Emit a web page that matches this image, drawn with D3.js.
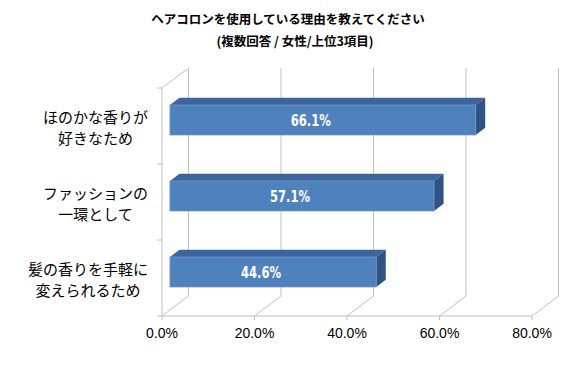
<!DOCTYPE html>
<html>
<head>
<meta charset="utf-8">
<script src="https://cdn.jsdelivr.net/npm/d3@7"></script>
<style>
	body { margin: 0; background: #fff; }
	svg { display: block; }
</style>
</head>
<body>
<svg id="chart" width="582" height="367"></svg>
<script>
(function() {
	'use strict';

	//chart data
	var titleLines = ['ヘアコロンを使用している理由を教えてください', '(複数回答 / 女性/上位3項目)'],
		categories = ['ほのかな香りが\n好きなため', 'ファッションの\n一環として', '髪の香りを手軽に\n変えられるため'],
		values = [66.1, 57.1, 44.6],
		ticks = [0, 20, 40, 60, 80];

	//layout variables
	var svg = d3.select('#chart'),
		left = 162, right = 532, top = 88, bottom = 316,
		depthX = 26.5, depthY = 20,
		barFront = 0.3, barBack = 0.66, barHeight = 30,
		gridColor = '#c0c0c0',
		jp = '"Noto Sans CJK JP", "Noto Sans", sans-serif';

	var x = d3.scaleLinear().domain([0, 80]).range([left, right]),
		y = d3.scaleBand().domain(categories).range([top, bottom]);

	function shift(d) {
		return [d * depthX, -d * depthY];
	}

	var back = shift(1);

	//title
	svg.append('g').selectAll('text').data(titleLines).join('text')
		.attr('x', function(d, i) { return i ? 295 : 288; })
		.attr('y', function(d, i) { return 24 + i * 22; })
		.attr('text-anchor', 'middle')
		.attr('font-family', jp)
		.attr('font-weight', 'bold')
		.attr('font-size', 12.5)
		.text(function(d) { return d; });

	//walls and floor
	var grid = svg.append('g')
		.attr('stroke', gridColor)
		.attr('stroke-width', 1)
		.attr('fill', 'none');

	//back wall verticals
	grid.selectAll('line.back').data(ticks).join('line')
		.attr('class', 'back')
		.attr('x1', function(d) { return x(d) + back[0]; })
		.attr('x2', function(d) { return x(d) + back[0]; })
		.attr('y1', top + back[1])
		.attr('y2', bottom + back[1]);

	//floor diagonals
	grid.selectAll('line.floor').data(ticks).join('line')
		.attr('class', 'floor')
		.attr('x1', function(d) { return x(d); })
		.attr('x2', function(d) { return x(d) + back[0]; })
		.attr('y1', bottom)
		.attr('y2', bottom + back[1]);

	//left wall top edge and front axis lines
	grid.append('line')
		.attr('x1', left).attr('y1', top)
		.attr('x2', left + back[0]).attr('y2', top + back[1]);
	grid.append('line')
		.attr('x1', left).attr('y1', top)
		.attr('x2', left).attr('y2', bottom);
	grid.append('line')
		.attr('x1', left).attr('y1', bottom)
		.attr('x2', right).attr('y2', bottom);

	//category ticks on the left axis
	var catEdges = categories.map(function(c) { return y(c); }).concat([bottom]);
	grid.selectAll('line.ctick').data(catEdges).join('line')
		.attr('class', 'ctick')
		.attr('x1', left - 5).attr('x2', left)
		.attr('y1', function(d) { return d; })
		.attr('y2', function(d) { return d; });

	//value ticks on the floor
	grid.selectAll('line.vtick').data(ticks).join('line')
		.attr('class', 'vtick')
		.attr('x1', function(d) { return x(d); })
		.attr('x2', function(d) { return x(d); })
		.attr('y1', bottom)
		.attr('y2', bottom + 4);

	//tick labels
	svg.append('g').selectAll('text').data(ticks).join('text')
		.attr('x', function(d) { return x(d); })
		.attr('y', bottom + 22)
		.attr('text-anchor', 'middle')
		.attr('font-family', '"Liberation Sans", Arial, sans-serif')
		.attr('font-size', 14)
		.text(function(d) { return d.toFixed(1) + '%'; });

	//category labels
	var catG = svg.append('g')
		.attr('font-family', jp)
		.attr('font-size', 15)
		.attr('fill', '#000');

	categories.forEach(function(c) {
		var lines = c.split('\n'),
			cy = y(c) + y.bandwidth() / 2 + 2,
			g = catG.append('g'),
			texts = g.selectAll('text').data(lines).join('text')
				.attr('text-anchor', 'middle')
				.attr('y', function(d, i) { return cy + (i - (lines.length - 1) / 2) * 21 + 5; })
				.text(function(d) { return d; }),
			maxW = 0;
		texts.each(function() { maxW = Math.max(maxW, this.getComputedTextLength()); });
		texts.attr('x', 148 - maxW / 2);
	});

	//bars
	var f = shift(barFront), b = shift(barBack),
		dx = b[0] - f[0], dy = b[1] - f[1];

	var bars = svg.append('g').selectAll('g').data(categories).join('g');

	bars.each(function(c, i) {
		var g = d3.select(this),
			x0 = x(0) + f[0],
			x1 = x(values[i]) + f[0],
			y0 = y(c) + y.bandwidth() / 2 - barHeight / 2 + f[1],
			y1 = y0 + barHeight;

		//top face
		g.append('path')
			.attr('d', d3.line()([[x0, y0], [x0 + dx, y0 + dy], [x1 + dx, y0 + dy], [x1, y0]]) + 'Z')
			.attr('fill', '#3E659B');

		//side face
		g.append('path')
			.attr('d', d3.line()([[x1, y0], [x1 + dx, y0 + dy], [x1 + dx, y1 + dy], [x1, y1]]) + 'Z')
			.attr('fill', '#2E5283');

		//front face
		g.append('rect')
			.attr('x', x0).attr('y', y0)
			.attr('width', x1 - x0).attr('height', barHeight)
			.attr('fill', '#4F81BD')
			.attr('stroke', '#6E98CC')
			.attr('stroke-width', 0.8);

		//value label
		g.append('text')
			.attr('x', (x0 + x1) / 2 - 12)
			.attr('y', y0 + barHeight / 2 + 6)
			.attr('text-anchor', 'middle')
			.attr('font-family', '"DejaVu Sans", sans-serif')
			.attr('font-weight', 'bold')
			.attr('font-size', 16)
			.attr('textLength', 40)
			.attr('lengthAdjust', 'spacingAndGlyphs')
			.attr('fill', '#fff')
			.text(values[i].toFixed(1) + '%');
	});
})();
</script>
</body>
</html>
